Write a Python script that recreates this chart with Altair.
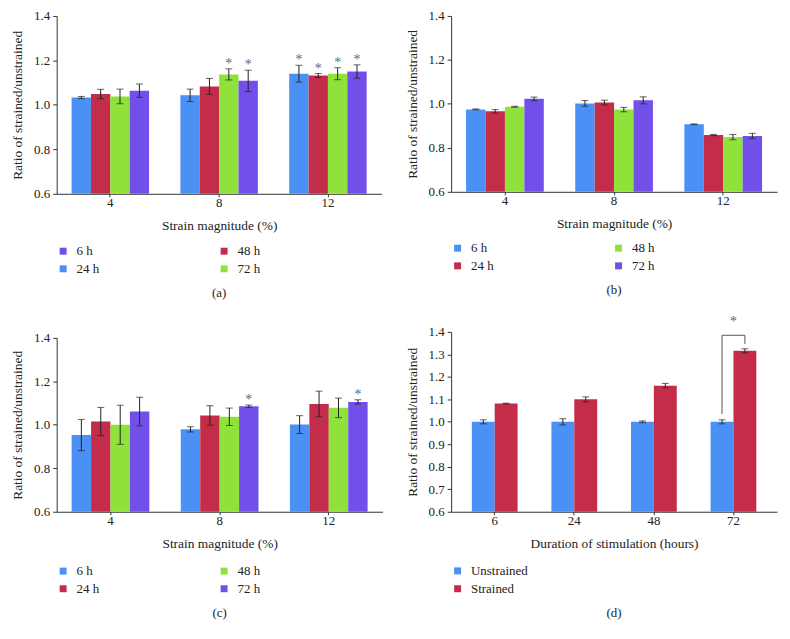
import altair as alt
import pandas as pd

SERIF = "Liberation Serif"
BLUE, RED, GREEN, PURPLE = "#4A90F5", "#C42D4A", "#8FE23A", "#7150EA"

strain = ["4", "8", "12"]
durations = ["6", "24", "48", "72"]

# Panel (a) -- bars left->right inside each group, named as in the printed legend
a_series = ["24 h", "48 h", "72 h", "6 h"]
# legend (filled column by column) and colours as printed in panel (a)
a_legend_domain = ["6 h", "24 h", "48 h", "72 h"]
a_legend_range = [PURPLE, BLUE, RED, GREEN]
a_24 = [1.033, 1.043, 1.140]
a_48 = [1.049, 1.083, 1.132]
a_72 = [1.038, 1.137, 1.140]
a_6 = [1.064, 1.108, 1.150]
a_24_err = [0.005, 0.028, 0.038]
a_48_err = [0.021, 0.036, 0.009]
a_72_err = [0.033, 0.025, 0.027]
a_6_err = [0.030, 0.048, 0.030]
a_24_sig = [0, 0, 1]
a_48_sig = [0, 0, 1]
a_72_sig = [0, 1, 1]
a_6_sig = [0, 1, 1]

# Panels (b), (c)
bc_series = ["6 h", "24 h", "48 h", "72 h"]
bc_range = [BLUE, RED, GREEN, PURPLE]
b_6 = [0.975, 1.002, 0.907]
b_24 = [0.966, 1.006, 0.858]
b_48 = [0.987, 0.974, 0.849]
b_72 = [1.023, 1.016, 0.854]
b_6_err = [0.002, 0.013, 0.002]
b_24_err = [0.008, 0.011, 0.003]
b_48_err = [0.002, 0.010, 0.012]
b_72_err = [0.008, 0.016, 0.012]

c_6 = [0.953, 0.979, 1.001]
c_24 = [1.015, 1.043, 1.096]
c_48 = [1.000, 1.037, 1.078]
c_72 = [1.061, 1.085, 1.105]
c_6_err = [0.072, 0.012, 0.041]
c_24_err = [0.065, 0.045, 0.059]
c_48_err = [0.090, 0.040, 0.045]
c_72_err = [0.066, 0.006, 0.010]
c_72_sig = [0, 1, 1]

# Panel (d)
d_series = ["Unstrained", "Strained"]
d_range = [BLUE, RED]
d_unstrained = [1.000, 1.000, 1.000, 1.000]
d_strained = [1.081, 1.100, 1.161, 1.316]
d_unstrained_err = [0.009, 0.014, 0.004, 0.009]
d_strained_err = [0.002, 0.011, 0.010, 0.009]
d_sig_group = "72"
d_bracket_y = [1.035, 1.385, 1.385, 1.347]
d_bracket_series = ["Unstrained", "Unstrained", "Strained", "Strained"]
d_star_y = 1.445


def table(groups, series_data):
    rows = []
    for name, vals, errs, sigs in series_data:
        for g, v, e, s in zip(groups, vals, errs, sigs):
            rows.append({"group": g, "series": name, "val": v,
                         "lo": v - e, "hi": v + e, "sig": s})
    return pd.DataFrame(rows)


def panel(df, groups, order, cdomain, crange, ticks, xtitle,
          caption, W, H, leg_y, pin, pout, columns, extra=None):
    xenc = alt.X("group:N", sort=groups, title=xtitle,
                 scale=alt.Scale(paddingInner=pin, paddingOuter=pout),
                 axis=alt.Axis(labelAngle=0, tickSize=3, labelPadding=0,
                               titlePadding=9))
    xoff = alt.XOffset("series:N", sort=order,
                       scale=alt.Scale(domain=order, paddingInner=0, paddingOuter=0))
    yscale = alt.Scale(domain=[0.6, 1.4], zero=False, nice=False)
    yaxis = alt.Axis(values=ticks, format=".1f", tickSize=4, labelPadding=3,
                     titlePadding=9)
    ytitle = "Ratio of strained/unstrained"

    def Y(field):
        return alt.Y(field, type="quantitative", scale=yscale, axis=yaxis, title=ytitle)

    base = alt.Chart(df)
    bars = base.mark_bar().encode(
        x=xenc, xOffset=xoff, y=Y("val"), y2=alt.datum(0.6),
        color=alt.Color("series:N", scale=alt.Scale(domain=cdomain, range=crange),
                        legend=alt.Legend(orient="none", legendX=0, legendY=H + leg_y,
                                          columns=columns,
                                          title=None, symbolType="square",
                                          symbolSize=49, symbolStrokeWidth=0,
                                          labelOffset=7, columnPadding=119,
                                          rowPadding=4, labelFont=SERIF,
                                          labelFontSize=13, labelColor="#222")),
    )
    rule = base.mark_rule(color="#222", strokeWidth=1).encode(
        x=xenc, xOffset=xoff, y=Y("lo"), y2="hi")
    cap_lo = base.mark_tick(color="#222", size=7, thickness=1).encode(
        x=xenc, xOffset=xoff, y=Y("lo"))
    cap_hi = base.mark_tick(color="#222", size=7, thickness=1).encode(
        x=xenc, xOffset=xoff, y=Y("hi"))
    stars = base.transform_filter("datum.sig == 1").mark_text(
        text="*", font=SERIF, fontSize=14, baseline="alphabetic",
        dy=-1).encode(x=xenc, xOffset=xoff, y=Y("hi"), color=alt.value("#666"))
    layers = [bars, rule, cap_lo, cap_hi, stars]
    if extra is not None:
        layers += extra(xenc, xoff, Y)
    return alt.layer(*layers).properties(
        width=W, height=H,
        title=alt.TitleParams(caption, orient="bottom", anchor="middle",
                              font=SERIF, fontSize=13, fontWeight="normal",
                              color="#222", offset=11))


df_a = table(strain, [("24 h", a_24, a_24_err, a_24_sig),
                      ("48 h", a_48, a_48_err, a_48_sig),
                      ("72 h", a_72, a_72_err, a_72_sig),
                      ("6 h", a_6, a_6_err, a_6_sig)])
zeros = [0, 0, 0]
df_b = table(strain, [("6 h", b_6, b_6_err, zeros), ("24 h", b_24, b_24_err, zeros),
                      ("48 h", b_48, b_48_err, zeros), ("72 h", b_72, b_72_err, zeros)])
df_c = table(strain, [("6 h", c_6, c_6_err, zeros), ("24 h", c_24, c_24_err, zeros),
                      ("48 h", c_48, c_48_err, zeros), ("72 h", c_72, c_72_err, c_72_sig)])
df_d = table(durations, [("Unstrained", d_unstrained, d_unstrained_err, [0, 0, 0, 0]),
                         ("Strained", d_strained, d_strained_err, [0, 0, 0, 0])])

ticks_02 = [0.6, 0.8, 1.0, 1.2, 1.4]
ticks_01 = [0.6, 0.7, 0.8, 0.9, 1.0, 1.1, 1.2, 1.3, 1.4]


def d_extra(xenc, xoff, Y):
    br = pd.DataFrame({"group": [d_sig_group] * 4, "series": d_bracket_series,
                       "by": d_bracket_y, "ord": [0, 1, 2, 3]})
    line = alt.Chart(br).mark_line(strokeWidth=1).encode(
        x=xenc, xOffset=xoff, y=Y("by"), order="ord:O", color=alt.value("#555"))
    st = pd.DataFrame({"group": [d_sig_group], "sy": [d_star_y]})
    star = alt.Chart(st).mark_text(text="*", font=SERIF, fontSize=14,
                                   baseline="middle").encode(
        x=xenc, y=Y("sy"), color=alt.value("#666"))
    return [line, star]


pa = panel(df_a, strain, a_series, a_legend_domain, a_legend_range, ticks_02,
           "Strain magnitude (%)", "(a)", 327, 179, 51, 0.288, 0.137, 2)
pb = panel(df_b, strain, bc_series, bc_series, bc_range, ticks_02,
           "Strain magnitude (%)", "(b)", 328, 177, 50, 0.288, 0.137, 2)
pc = panel(df_c, strain, bc_series, bc_series, bc_range, ticks_02,
           "Strain magnitude (%)", "(c)", 328, 175, 53, 0.288, 0.137, 2)
pd_ = panel(df_d, durations, d_series, d_series, d_range, ticks_01,
            "Duration of stimulation (hours)", "(d)", 328, 181, 53, 0.425, 0.26, 1,
            extra=d_extra)

left = alt.vconcat(pa, pc, spacing=32).resolve_scale(color="independent",
                                                        xOffset="independent")
right = alt.vconcat(pb, pd_, spacing=17).resolve_scale(color="independent",
                                                         xOffset="independent")
chart = alt.hconcat(left, right, spacing=22).resolve_scale(
    color="independent", xOffset="independent"
).properties(
    padding={"left": 2, "top": 0, "right": 5, "bottom": 5}
).configure_axis(
    labelFont=SERIF, titleFont=SERIF, labelFontSize=13, titleFontSize=13.5,
    titleFontWeight="normal", labelColor="#222", titleColor="#222",
    domainColor="#333", tickColor="#333", grid=False
).configure_view(stroke=None).configure_legend(labelFont=SERIF, labelFontSize=13)

chart.save("out.html", embed_options={"renderer": "svg", "actions": False})
